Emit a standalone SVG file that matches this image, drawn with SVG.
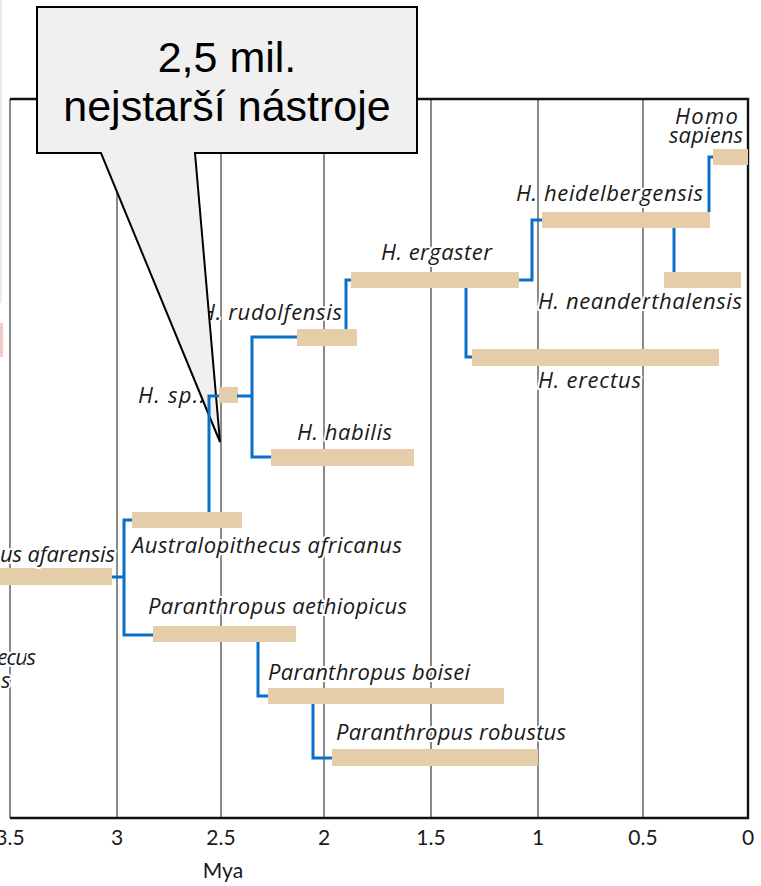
<svg xmlns="http://www.w3.org/2000/svg" width="761" height="886" viewBox="0 0 761 886">
<style>
.bar{fill:#e6cda9}
.grid{stroke:#3c3c3c;stroke-width:1.2;fill:none}
.frame{stroke:#111;stroke-width:2.4;fill:none}
.con{stroke:#0a6fc8;stroke-width:3;fill:none;stroke-linejoin:miter;stroke-linecap:butt}
.lbl{font-family:"Open Sans","Noto Sans","DejaVu Sans",sans-serif;font-style:italic;font-size:22px;fill:#1a1a1a;stroke:#fff;stroke-width:4;paint-order:stroke;stroke-linejoin:round}
.tick{font-family:Lato,"Liberation Sans",sans-serif;font-size:21px;fill:#1a1a1a;text-anchor:middle}
.call{font-family:"Liberation Sans",Arial,sans-serif;font-size:43px;fill:#000;text-anchor:middle}
</style>
<rect width="761" height="886" fill="#fff"/>
<line x1="1" y1="0" x2="1" y2="303" stroke="#e4e4e4" stroke-width="1.5"/>
<rect x="0" y="323" width="3" height="34" fill="#f6c9c9"/>
<g id="grid">
<line class="grid" x1="10" y1="99" x2="10" y2="818"/>
<line class="grid" x1="117" y1="99" x2="117" y2="818"/>
<line class="grid" x1="221" y1="99" x2="221" y2="818"/>
<line class="grid" x1="324" y1="99" x2="324" y2="818"/>
<line class="grid" x1="431" y1="99" x2="431" y2="818"/>
<line class="grid" x1="538" y1="99" x2="538" y2="818"/>
<line class="grid" x1="643" y1="99" x2="643" y2="818"/>
<path class="frame" d="M10,99 H748 V818 H10"/>
</g>
<g id="axis">
<text class="tick" x="10" y="845">3.5</text>
<text class="tick" x="117" y="845">3</text>
<text class="tick" x="221" y="845">2.5</text>
<text class="tick" x="324" y="845">2</text>
<text class="tick" x="431" y="845">1.5</text>
<text class="tick" x="538" y="845">1</text>
<text class="tick" x="643" y="845">0.5</text>
<text class="tick" x="748" y="845">0</text>
<text class="tick" x="223" y="878">Mya</text>
</g>
<g id="nodes">
<g id="homo-sapiens"><rect class="bar" x="713" y="149" width="35" height="16"/><text class="lbl" x="675" y="124" textLength="63">Homo</text><text class="lbl" x="669" y="143" textLength="74">sapiens</text></g>
<g id="h-heidelbergensis"><rect class="bar" x="542" y="212" width="168" height="16"/><text class="lbl" x="516" y="201" textLength="187">H. heidelbergensis</text></g>
<g id="h-neanderthalensis"><rect class="bar" x="664" y="272" width="77" height="16"/><text class="lbl" x="538" y="309" textLength="204">H. neanderthalensis</text></g>
<g id="h-ergaster"><rect class="bar" x="351" y="272" width="168" height="16"/><text class="lbl" x="381" y="260" textLength="111">H. ergaster</text></g>
<g id="h-erectus"><rect class="bar" x="472" y="349" width="247" height="17"/><text class="lbl" x="538" y="388" textLength="103">H. erectus</text></g>
<g id="h-rudolfensis"><rect class="bar" x="297" y="329" width="60" height="17"/><text class="lbl" x="200" y="320" textLength="142">H. rudolfensis</text></g>
<g id="h-sp"><rect class="bar" x="219" y="387" width="19" height="16"/><text class="lbl" x="138" y="403" textLength="67">H. sp..</text></g>
<g id="h-habilis"><rect class="bar" x="271" y="449" width="143" height="17"/><text class="lbl" x="297" y="440" textLength="95">H. habilis</text></g>
<g id="a-africanus"><rect class="bar" x="132" y="512" width="110" height="16"/><text class="lbl" x="132" y="553" textLength="270">Australopithecus africanus</text></g>
<g id="a-afarensis"><rect class="bar" x="0" y="568" width="112" height="17"/><text class="lbl" x="0" y="562" textLength="115">us afarensis</text></g>
<g id="a-anamensis"><text class="lbl" x="-3" y="665" textLength="39">ecus</text><text class="lbl" x="1" y="688" textLength="9">s</text></g>
<g id="p-aethiopicus"><rect class="bar" x="153" y="626" width="143" height="16"/><text class="lbl" x="148" y="614" textLength="259">Paranthropus aethiopicus</text></g>
<g id="p-boisei"><rect class="bar" x="268" y="688" width="236" height="16"/><text class="lbl" x="268" y="680" textLength="202">Paranthropus boisei</text></g>
<g id="p-robustus"><rect class="bar" x="332" y="749" width="206" height="17"/><text class="lbl" x="336" y="740" textLength="230">Paranthropus robustus</text></g>
</g>
<g id="callout">
<path d="M37,7 H417 V153 H195 L220,442 L101,153 H37 Z" fill="#f0f0f0" stroke="#000" stroke-width="2" stroke-linejoin="miter"/>
<text class="call" x="227" y="72">2,5 mil.</text>
<text class="call" x="227" y="121">nejstarší nástroje</text>
</g>
<g id="connectors">
<path class="con" d="M112,577 H124 M132,520 H124 V635 H153"/>
<path class="con" d="M258,642 V696 H268"/>
<path class="con" d="M313,704 V758 H332"/>
<path class="con" d="M209,512 V396 H219"/>
<path class="con" d="M237,396 H252 M297,337 H252 V457 H271"/>
<path class="con" d="M346,329 V280 H351"/>
<path class="con" d="M519,280 H532 V220 H542"/>
<path class="con" d="M466,288 V357 H472"/>
<path class="con" d="M709,212 V157 H713"/>
<path class="con" d="M674,228 V272"/>
</g>
</svg>
